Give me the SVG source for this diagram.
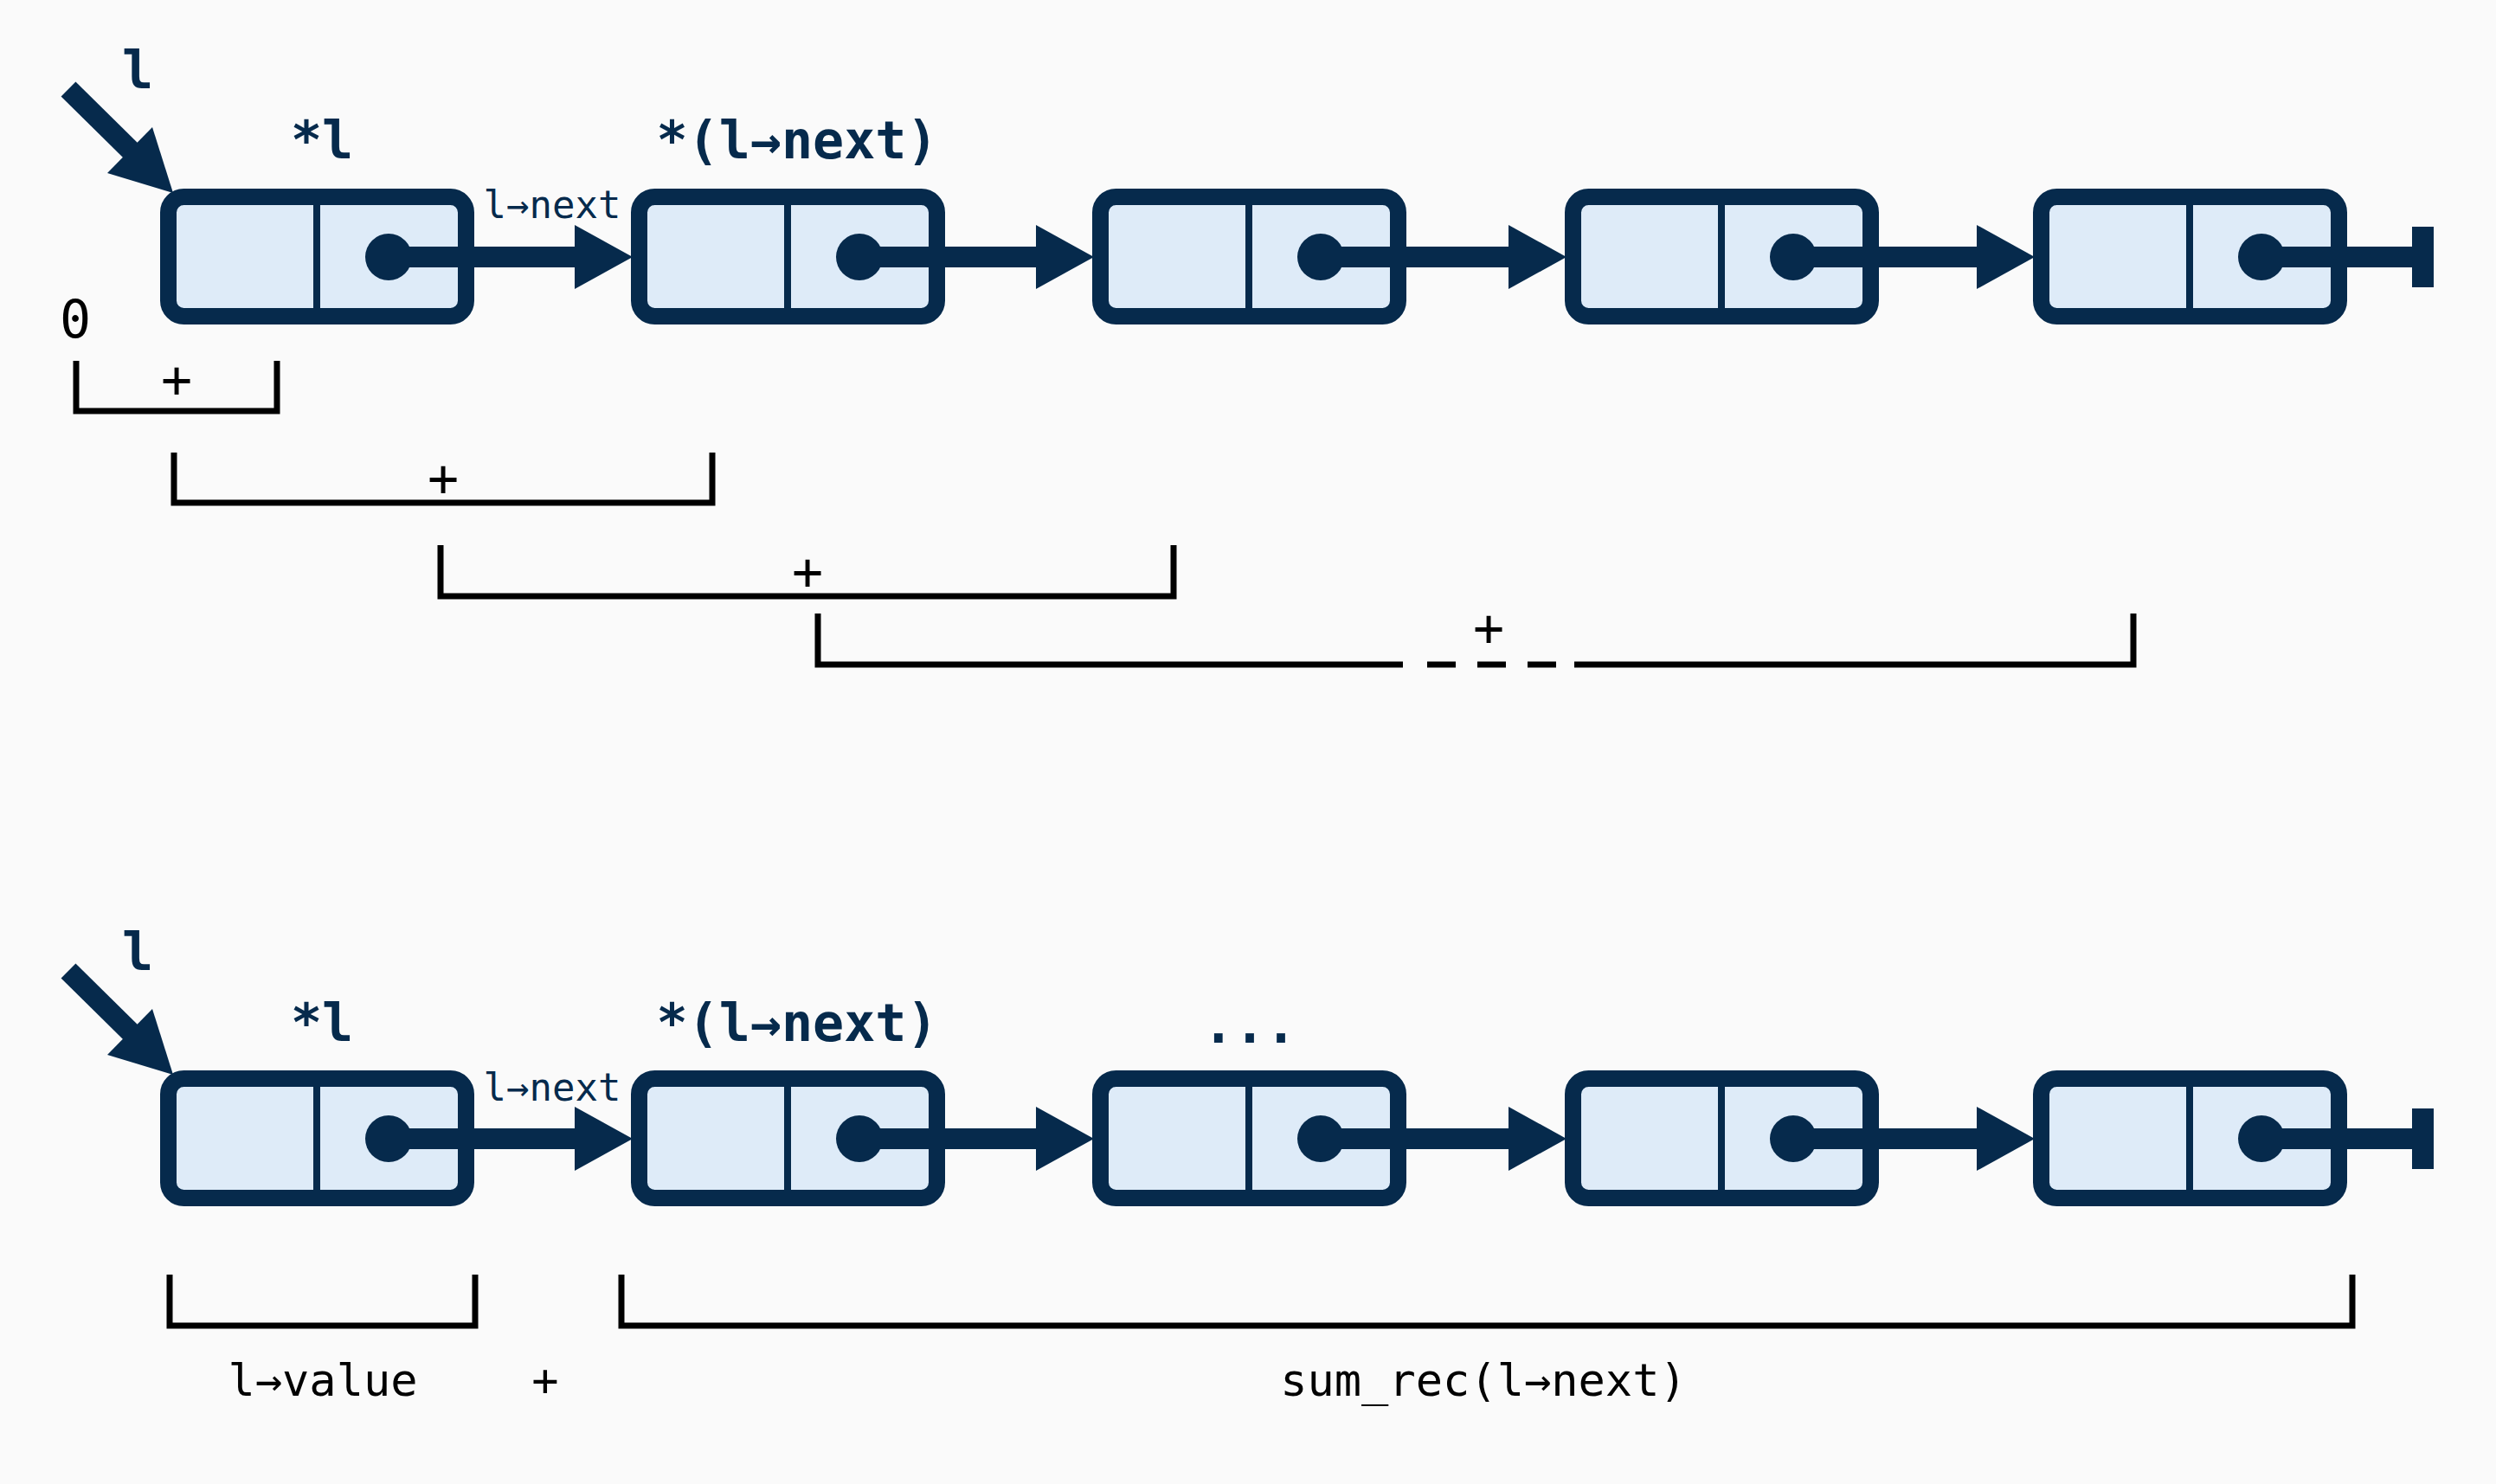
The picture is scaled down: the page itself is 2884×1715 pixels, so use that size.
<svg xmlns="http://www.w3.org/2000/svg" width="2884" height="1715" viewBox="0 0 2884 1715">
<defs>
<style>
.bg{fill:#fafafa}
.box{fill:#deebf8;stroke:#062a4c;stroke-width:19}
.div{stroke:#062a4c;stroke-width:8}
.dot{fill:#062a4c}
.shaft{stroke:#062a4c;stroke-width:24;fill:none}
.head{fill:#062a4c}
.lab{font-family:"DejaVu Sans Mono","Liberation Mono",monospace;font-weight:bold;font-size:60px;fill:#062a4c;text-anchor:middle}
.small{font-family:"DejaVu Sans Mono","Liberation Mono",monospace;font-size:44px;fill:#062a4c;text-anchor:middle}
.blk{font-family:"DejaVu Sans Mono","Liberation Mono",monospace;font-size:60px;fill:#000;text-anchor:middle}
.blk2{font-family:"DejaVu Sans Mono","Liberation Mono",monospace;font-size:52px;fill:#000;text-anchor:middle}
.br{stroke:#000;stroke-width:7;fill:none;stroke-linejoin:miter}
</style>
<g id="nodeshape">
<rect x="9.5" y="9.5" width="344" height="138" rx="18" class="box"/>
<line x1="181" y1="10" x2="181" y2="147" class="div"/>
<circle cx="264" cy="79" r="27" class="dot"/>
</g>
</defs>
<rect class="bg" x="0" y="0" width="2884" height="1715"/>

<!-- top row -->
<g id="top-pointer">
<line x1="79" y1="103" x2="153" y2="176" class="shaft"/>
<polygon points="200,223 124,200 176,147" class="head"/>
<text x="159" y="102" class="lab">l</text>
</g>
<g id="top-node1"><use href="#nodeshape" x="185" y="218"/><text x="372" y="183" class="lab">*l</text></g>
<g id="top-node2"><use href="#nodeshape" x="729" y="218"/><text x="921" y="183" class="lab">*(l→next)</text></g>
<g id="top-node3"><use href="#nodeshape" x="1262" y="218"/></g>
<g id="top-node4"><use href="#nodeshape" x="1808" y="218"/></g>
<g id="top-node5"><use href="#nodeshape" x="2349" y="218"/></g>
<g id="top-connectors">
<line x1="449" y1="297" x2="665" y2="297" class="shaft"/><polygon points="731,297 664,260 664,334" class="head"/>
<line x1="993" y1="297" x2="1198" y2="297" class="shaft"/><polygon points="1264,297 1197,260 1197,334" class="head"/>
<line x1="1526" y1="297" x2="1744" y2="297" class="shaft"/><polygon points="1810,297 1743,260 1743,334" class="head"/>
<line x1="2072" y1="297" x2="2285" y2="297" class="shaft"/><polygon points="2351,297 2284,260 2284,334" class="head"/>
<line x1="2613" y1="297" x2="2790" y2="297" class="shaft"/><rect x="2787" y="262" width="25" height="70" class="head"/>
<text x="638" y="252" class="small">l→next</text>
</g>
<g id="top-brackets">
<text x="87" y="390" class="blk">0</text>
<path d="M88 417 V475 H320 V417" class="br"/>
<text x="204" y="459" class="blk">+</text>
<path d="M201 523 V581 H823 V523" class="br"/>
<text x="512" y="573" class="blk">+</text>
<path d="M509 630 V689 H1356 V630" class="br"/>
<text x="933" y="681" class="blk">+</text>
<path d="M945 709 V768 H1621" class="br"/>
<path d="M1649 768 H1682 M1707 768 H1740 M1765 768 H1798" class="br"/>
<path d="M1819 768 H2465 V709" class="br"/>
<text x="1720" y="746" class="blk">+</text>
</g>

<!-- bottom row -->
<g id="bottom-pointer">
<line x1="79" y1="1122" x2="153" y2="1195" class="shaft"/>
<polygon points="200,1242 124,1219 176,1166" class="head"/>
<text x="159" y="1121" class="lab">l</text>
</g>
<g id="bottom-node1"><use href="#nodeshape" x="185" y="1237"/><text x="372" y="1203" class="lab">*l</text></g>
<g id="bottom-node2"><use href="#nodeshape" x="729" y="1237"/><text x="921" y="1203" class="lab">*(l→next)</text></g>
<g id="bottom-node3"><use href="#nodeshape" x="1262" y="1237"/><text x="1444" y="1205" class="lab">...</text></g>
<g id="bottom-node4"><use href="#nodeshape" x="1808" y="1237"/></g>
<g id="bottom-node5"><use href="#nodeshape" x="2349" y="1237"/></g>
<g id="bottom-connectors">
<line x1="449" y1="1316" x2="665" y2="1316" class="shaft"/><polygon points="731,1316 664,1279 664,1353" class="head"/>
<line x1="993" y1="1316" x2="1198" y2="1316" class="shaft"/><polygon points="1264,1316 1197,1279 1197,1353" class="head"/>
<line x1="1526" y1="1316" x2="1744" y2="1316" class="shaft"/><polygon points="1810,1316 1743,1279 1743,1353" class="head"/>
<line x1="2072" y1="1316" x2="2285" y2="1316" class="shaft"/><polygon points="2351,1316 2284,1279 2284,1353" class="head"/>
<line x1="2613" y1="1316" x2="2790" y2="1316" class="shaft"/><rect x="2787" y="1281" width="25" height="70" class="head"/>
<text x="638" y="1272" class="small">l→next</text>
</g>
<g id="bottom-brackets">
<path d="M196 1473 V1532 H549 V1473" class="br"/>
<path d="M718 1473 V1532 H2718 V1473" class="br"/>
<text x="373" y="1613" class="blk2">l→value</text>
<text x="630" y="1613" class="blk2">+</text>
<text x="1714" y="1613" class="blk2">sum_rec(l→next)</text>
</g>
</svg>
